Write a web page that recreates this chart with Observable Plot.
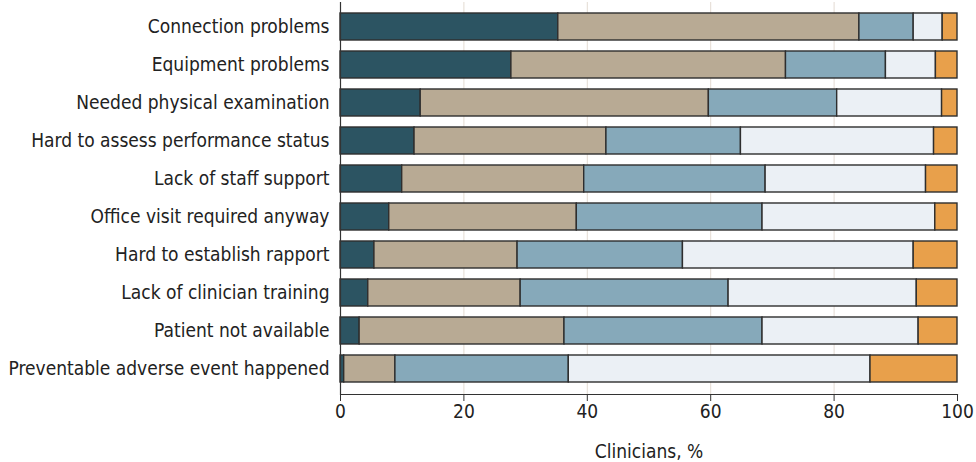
<!DOCTYPE html>
<html>
<head>
<meta charset="utf-8">
<script src="https://cdn.jsdelivr.net/npm/d3@7"></script>
<script src="https://cdn.jsdelivr.net/npm/@observablehq/plot@0.6"></script>
<style>
  html, body { margin: 0; padding: 0; background: #fff; }
  #chart svg { display: block; }
</style>
</head>
<body>
<div id="chart"></div>
<script>
const categories = [
  "Connection problems",
  "Equipment problems",
  "Needed physical examination",
  "Hard to assess performance status",
  "Lack of staff support",
  "Office visit required anyway",
  "Hard to establish rapport",
  "Lack of clinician training",
  "Patient not available",
  "Preventable adverse event happened"
];
const responses = ["Very often", "Often", "Sometimes", "Rarely", "Never"];
const veryOften = [35.3, 27.7, 13.0, 12.0, 10.0, 7.9, 5.5, 4.5, 3.1, 0.6];
const often     = [48.8, 44.5, 46.7, 31.1, 29.5, 30.4, 23.2, 24.7, 33.2, 8.3];
const sometimes = [8.8, 16.2, 20.8, 21.8, 29.4, 30.1, 26.8, 33.7, 32.1, 28.1];
const rarely    = [4.7, 8.1, 17.0, 31.3, 26.0, 28.0, 37.4, 30.5, 25.3, 48.9];
const never     = [2.4, 3.5, 2.5, 3.8, 5.1, 3.6, 7.1, 6.6, 6.3, 14.1];
const colors = ["#2c5462", "#b8aa94", "#86a9ba", "#ebf0f5", "#e8a04b"];
const xTicks = [0, 20, 40, 60, 80, 100];

const series = [veryOften, often, sometimes, rarely, never];
const rows = [];
categories.forEach((c, i) => {
  responses.forEach((r, j) => rows.push({category: c, response: r, value: series[j][i]}));
});

const font = "'DejaVu Sans Condensed', 'DejaVu Sans', sans-serif";

const chart = Plot.plot({
  width: 976,
  height: 462,
  marginTop: 2,
  marginLeft: 340,
  marginRight: 19,
  marginBottom: 68,
  style: {fontFamily: font, fontSize: "19px", color: "#222", background: "#fff"},
  x: {domain: [0, 100], ticks: xTicks, label: null},
  y: {domain: categories, paddingInner: 0.28, paddingOuter: 0.28, label: null},
  color: {domain: responses, range: colors},
  marks: [
    Plot.gridX(xTicks.slice(1, -1), {stroke: "#e3dbd2", strokeOpacity: 1, strokeWidth: 1}),
    Plot.barX(rows, {
      x: "value", y: "category", fill: "response",
      order: responses,
      stroke: "#2e2e2e", strokeWidth: 1.4
    }),
    Plot.ruleX([0], {stroke: "#333", strokeWidth: 1.2}),
    Plot.frame({anchor: "bottom", stroke: "#333", strokeWidth: 1.2}),
    Plot.axisX(xTicks, {tickSize: 7, tickPadding: 3, fontSize: 19, stroke: "#333",
      label: "Clinicians, %", labelAnchor: "center", labelArrow: "none", labelOffset: 63}),
    Plot.axisY({tickSize: 0, tickPadding: 11, fontSize: 19, label: null})
  ]
});
document.getElementById("chart").appendChild(chart);
</script>
</body>
</html>
